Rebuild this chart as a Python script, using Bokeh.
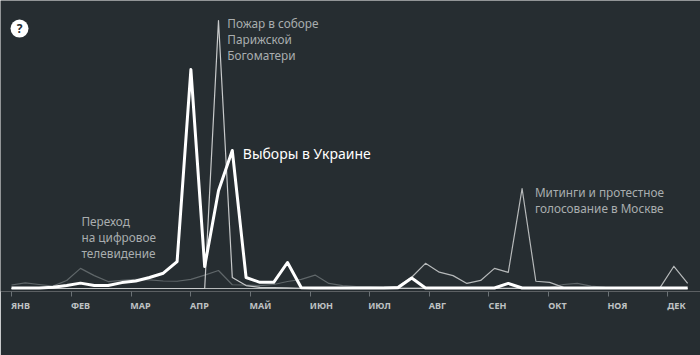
from bokeh.plotting import figure
from bokeh.models import FixedTicker, Range1d, LinearAxis
from bokeh.core.properties import value
from bokeh.embed import file_html
from bokeh.resources import INLINE

BG = "#262d31"
months = ["ЯНВ", "ФЕВ", "МАР", "АПР", "МАЙ", "ИЮН", "ИЮЛ", "АВГ", "СЕН", "ОКТ", "НОЯ", "ДЕК"]
month_pos = [0.0, 4.35, 8.7, 12.97, 17.32, 21.68, 25.94, 30.29, 34.57, 38.9, 43.26, 47.54]
label_pos = [0.65, 5.0, 9.35, 13.62, 18.04, 22.46, 26.67, 30.87, 35.22, 39.57, 43.91, 48.19]
weeks = list(range(50))

# popularity index, 100 = Notre-Dame peak
elections = [0.2, 0.2, 0.2, 0.5, 1.1, 2.0, 1.1, 1.1, 2.2, 2.8, 4.1, 5.7, 10.0, 81.7, 8.2, 36.5, 51.5, 4.1, 2.3, 2.3, 9.7, 0.3,
             0.2, 0.2, 0.2, 0.2, 0.2, 0.2, 0.3, 3.9, 0.2, 0.2, 0.2, 0.2, 0.2, 0.2, 1.9, 0.2, 0.2, 0.2, 0.2, 0.2, 0.2, 0.2, 0.2, 0.2, 0.2, 0.2, 0.2, 0.2]
notre_dame = [0, 0, 0, 0, 0, 0, 0, 0, 0, 0, 0, 0, 0, 0, 0, 100, 4.1, 1.1, 0.4, 0.3, 0.2, 0.1,
              0, 0, 0, 0, 0, 0, 0, 0, 0, 0, 0, 0, 0, 0, 0, 0, 0, 0, 0, 0, 0, 0, 0, 0, 0, 0, 0, 0]
moscow = [0, 0, 0, 0, 0, 0, 0, 0, 0, 0, 0, 0, 0, 0, 0, 0, 0, 0, 0, 0, 0, 0, 0, 0, 0.1, 0.2, 0.3, 0.4, 0.8, 4.2, 9.4, 6.1, 4.8, 1.9, 3.0, 7.5, 6.0, 37.3, 2.7, 2.3,
          0.4, 0.3, 0.2, 0.2, 0.1, 0.1, 0.1, 0.3, 8.3, 1.9]
digital_tv = [1.3, 2.1, 1.5, 0.9, 3.0, 7.5, 4.8, 2.6, 3.0, 3.4, 3.2, 2.8, 2.7, 3.4, 5.0, 6.7, 1.4, 1.3, 1.1, 1.5, 2.6, 3.4,
              5.0, 1.9, 1.1, 0.7, 0.7, 0.5, 0.4, 0.3, 0.3, 0.2, 0.2, 0.2, 0.2, 0.2, 0.2, 0.2, 0.2, 0.3, 1.5, 1.9, 0.9, 0.4, 0.3, 0.2, 0.1, 0.1, 0.1, 0.1]

notes_grey = ["Пожар в соборе", "Парижской", "Богоматери", "Переход", "на цифровое", "телевидение", "Митинги и протестное", "голосование в Москве"]
notes_x = [15.64, 15.64, 15.64, 5.07, 5.07, 5.07, 37.93, 37.93]
notes_y = [99.1, 93.1, 87.1, 25.2, 19.3, 13.3, 35.9, 29.9]

p = figure(width=700, height=355, output_backend="svg", toolbar_location=None,
           x_range=Range1d(-0.797, 49.93), y_range=Range1d(-1.12, 107.46),
           min_border_left=0, min_border_right=0, min_border_top=0, min_border_bottom=64,
           background_fill_color=BG, border_fill_color=BG, outline_line_color=None)
p.grid.visible = False
p.yaxis.visible = False
ax = p.xaxis[0]
ax.ticker = FixedTicker(ticks=month_pos)
ax.major_label_text_font_size = "0px"
ax.major_label_text_color = None
ax.axis_line_color = None
ax.major_tick_line_color = "#6a7175"
ax.major_tick_line_width = 1
ax.major_tick_in = 0
ax.major_tick_out = 5
ax.minor_tick_line_color = None
ax.major_label_standoff = 0

ax2 = LinearAxis(ticker=FixedTicker(ticks=label_pos), major_label_overrides=dict(zip(label_pos, months)),
                 axis_line_color=None, major_tick_line_color=None, minor_tick_line_color=None,
                 major_label_text_color="#bfc2c3", major_label_text_font="Noto Sans",
                 major_label_text_font_size="9px", major_label_text_font_style="bold",
                 major_label_standoff=2, major_tick_in=0, major_tick_out=0)
p.add_layout(ax2, "below")

p.line(weeks, digital_tv, line_color="#5f6669", line_width=1.2, line_join="round")
p.line(weeks, moscow, line_color="#b6b9ba", line_width=1.2, line_join="round")
p.line(weeks, notre_dame, line_color="#c8cacb", line_width=1.2, line_join="round")
p.line(weeks, elections, line_color="#ffffff", line_width=3, line_join="round")

p.text(notes_x, notes_y, text=notes_grey, text_color="#a9adaf", text_font=value("Noto Sans"),
       text_font_size="11.8px", text_baseline="middle", text_align="left")
p.text([16.76], [50.4], text=["Выборы в Украине"], text_color="#ffffff", text_font=value("Noto Sans"),
       text_font_size="14px", text_baseline="middle", text_align="left")

p.scatter([0.58], [97], size=18, marker="circle", fill_color="#ffffff", line_color=None)
p.text([0.58], [97], text=["?"], text_color=BG, text_font=value("Noto Sans"), text_font_style="bold",
       text_font_size="12px", text_baseline="middle", text_align="center")

open("out.html", "w").write(file_html(p, INLINE))
